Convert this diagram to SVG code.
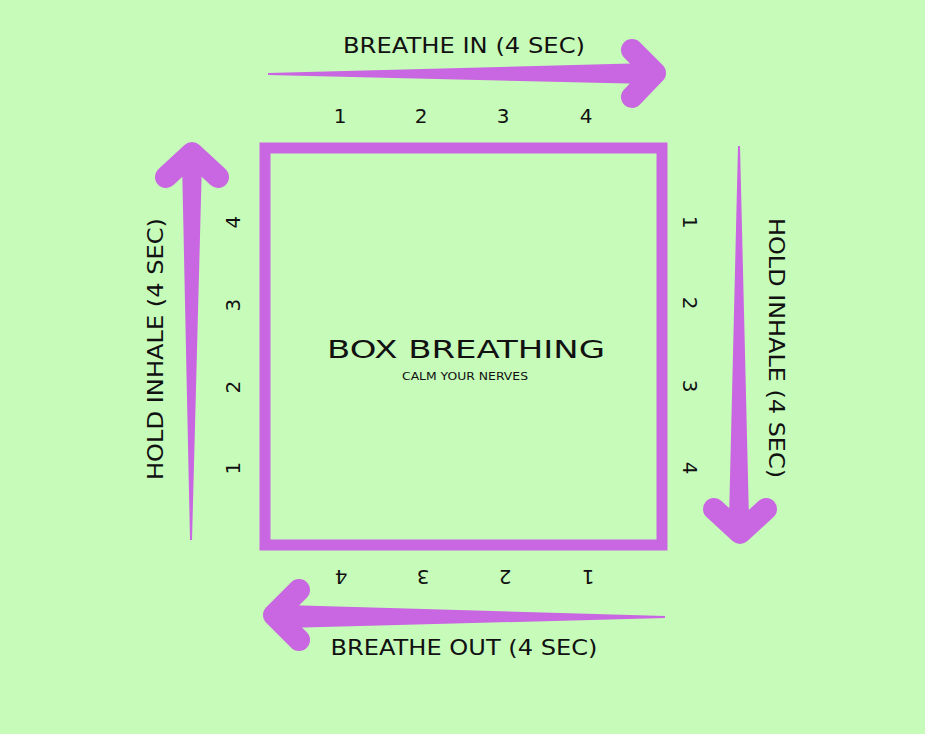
<svg xmlns="http://www.w3.org/2000/svg" width="925" height="734" viewBox="0 0 925 734">
<style>
.t{font-family:"DejaVu Sans","Liberation Sans",sans-serif;fill:#111;text-anchor:middle}
.lbl{font-size:21px}
.num{font-size:20px}
.shaft{fill:#C966E1}
.head{fill:none;stroke:#C966E1;stroke-width:22;stroke-linecap:round;stroke-linejoin:round}
</style>
<rect width="925" height="734" fill="#C6FBBA"/>
<g id="box">
<rect x="265" y="148" width="397" height="397" fill="none" stroke="#C966E1" stroke-width="11"/>
<text class="t" x="466" y="358" font-size="25" textLength="278" lengthAdjust="spacingAndGlyphs">BOX BREATHING</text>
<text class="t" x="465" y="380" font-size="10.5" textLength="126" lengthAdjust="spacingAndGlyphs">CALM YOUR NERVES</text>
</g>
<g id="connectors">
<g id="arrow-top">
<path class="shaft" d="M268,73 L650,63 L650,84 L268,75 Z"/>
<path class="head" d="M632,50 L655,73 L632,97"/>
</g>
<g id="arrow-right">
<path class="shaft" d="M738,146 L740,146 L749,520 L729,520 Z"/>
<path class="head" d="M714,509 L740,533 L766,509"/>
</g>
<g id="arrow-bottom">
<path class="shaft" d="M665,616 L665,618 L285,628 L285,605 Z"/>
<path class="head" d="M299,590 L274,615 L299,640"/>
</g>
<g id="arrow-left">
<path class="shaft" d="M190,540 L192,540 L202,160 L182,160 Z"/>
<path class="head" d="M166,177 L192,153 L218,177"/>
</g>
</g>
<g id="label-top">
<text class="t lbl" x="464" y="53" textLength="242" lengthAdjust="spacingAndGlyphs">BREATHE IN (4 SEC)</text>
<text class="t num" x="340" y="123">1</text>
<text class="t num" x="421" y="123">2</text>
<text class="t num" x="503" y="123">3</text>
<text class="t num" x="586" y="123">4</text>
</g>
<g id="label-right">
<text class="t lbl" x="777" y="356" transform="rotate(90 777 348)" textLength="260" lengthAdjust="spacingAndGlyphs">HOLD INHALE (4 SEC)</text>
<text class="t num" x="690" y="229.5" transform="rotate(90 690 222)">1</text>
<text class="t num" x="690" y="310.5" transform="rotate(90 690 303)">2</text>
<text class="t num" x="690" y="393.5" transform="rotate(90 690 386)">3</text>
<text class="t num" x="690" y="475.5" transform="rotate(90 690 468)">4</text>
</g>
<g id="label-bottom">
<text class="t lbl" x="464" y="655" textLength="267" lengthAdjust="spacingAndGlyphs">BREATHE OUT (4 SEC)</text>
<text class="t num" x="341" y="584.5" transform="rotate(180 341 577)">4</text>
<text class="t num" x="423" y="584.5" transform="rotate(180 423 577)">3</text>
<text class="t num" x="505" y="584.5" transform="rotate(180 505 577)">2</text>
<text class="t num" x="588" y="584.5" transform="rotate(180 588 577)">1</text>
</g>
<g id="label-left">
<text class="t lbl" x="155" y="357" transform="rotate(-90 155 349)" textLength="262" lengthAdjust="spacingAndGlyphs">HOLD INHALE (4 SEC)</text>
<text class="t num" x="232" y="229.5" transform="rotate(-90 232 222)">4</text>
<text class="t num" x="232" y="312.5" transform="rotate(-90 232 305)">3</text>
<text class="t num" x="232" y="394.5" transform="rotate(-90 232 387)">2</text>
<text class="t num" x="232" y="475.5" transform="rotate(-90 232 468)">1</text>
</g>
</svg>
